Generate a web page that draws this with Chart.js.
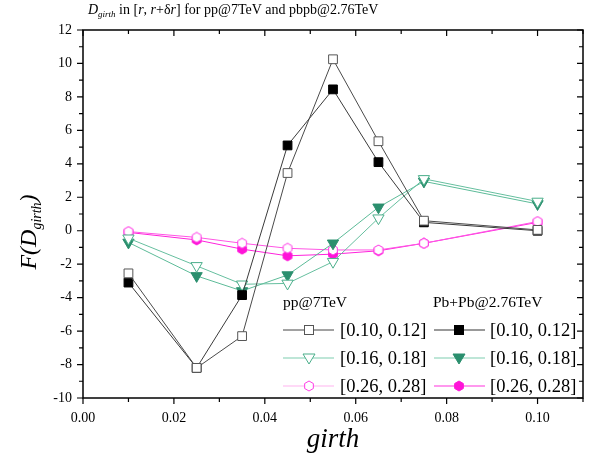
<!DOCTYPE html>
<html>
<head>
<meta charset="utf-8">
<script src="https://cdn.jsdelivr.net/npm/chart.js@4"></script>
<style>
  html, body { margin: 0; padding: 0; background: #fff; }
  #wrap { width: 594px; height: 461px; }
</style>
</head>
<body>
<div id="wrap"><canvas id="girth"></canvas></div>
<script>
// girth bins (x) and F(D_girth) values
var girth = [0.01, 0.025, 0.035, 0.045, 0.055, 0.065, 0.075, 0.10];
var pp1012 = [-2.55, -8.2, -6.3, 3.45, 10.25, 5.35, 0.6, 0.05];
var pbpb1012 = [-3.1, -8.2, -3.85, 5.1, 8.45, 4.1, 0.5, 0.0];
var pp1618 = [-0.45, -2.1, -3.2, -3.15, -1.85, 0.75, 3.1, 1.75];
var pbpb1618 = [-0.7, -2.7, -3.6, -2.65, -0.75, 1.4, 2.95, 1.6];
var pp2628 = [-0.05, -0.4, -0.75, -1.05, -1.15, -1.15, -0.75, 0.55];
var pbpb2628 = [-0.1, -0.55, -1.1, -1.5, -1.4, -1.2, -0.75, 0.5];

var xLabels = [0, 0.02, 0.04, 0.06, 0.08, 0.10];
var yLabels = [-10, -8, -6, -4, -2, 0, 2, 4, 6, 8, 10, 12];
var binNames = ['[0.10, 0.12]', '[0.16, 0.18]', '[0.26, 0.28]'];

var SERIF = "'Liberation Serif', 'DejaVu Serif', serif";

function hexagon(fill, stroke) {
  var c = document.createElement('canvas');
  c.width = 12; c.height = 12;
  var g = c.getContext('2d');
  g.beginPath();
  for (var i = 0; i < 6; i++) {
    var a = Math.PI / 2 + i * Math.PI / 3;
    var px = 6 + 5 * Math.cos(a), py = 6 - 5 * Math.sin(a);
    if (i == 0) g.moveTo(px, py); else g.lineTo(px, py);
  }
  g.closePath();
  g.fillStyle = fill; g.fill();
  g.lineWidth = 1; g.strokeStyle = stroke; g.stroke();
  return c;
}
var hexOpen = hexagon('#ffffff', '#ff3be6');
var hexFull = hexagon('#ff14d8', '#ff14d8');

function pts(ys) {
  return girth.map(function(x, i) { return {x: x, y: ys[i]}; });
}

function ds(label, ys, line, style, fill, stroke, radius, rot) {
  return {
    label: label, data: pts(ys), borderColor: line, borderWidth: 1,
    pointStyle: style, pointBackgroundColor: fill, pointBorderColor: stroke,
    pointBorderWidth: 1, pointRadius: radius, pointRotation: rot || 0,
    tension: 0, fill: false
  };
}

var datasets = [
  ds('pp [0.10, 0.12]', pp1012, '#4a4a4a', 'rect', '#ffffff', '#555555', 6.2),
  ds('PbPb [0.10, 0.12]', pbpb1012, '#3a3a3a', 'rect', '#000000', '#000000', 6.2),
  ds('pp [0.16, 0.18]', pp1618, '#66bf9f', 'triangle', '#ffffff', '#4aae8a', 6.5, 180),
  ds('PbPb [0.16, 0.18]', pbpb1618, '#5cbb98', 'triangle', '#2b8f6e', '#2b8f6e', 6.5, 180),
  ds('pp [0.26, 0.28]', pp2628, '#ff55e4', hexOpen, '#ffffff', '#ff3be6', 5),
  ds('PbPb [0.26, 0.28]', pbpb2628, '#ff22dc', hexFull, '#ff14d8', '#ff14d8', 5)
];

// draw a run of text pieces with different fonts / baseline shifts
function richText(ctx, parts, x, y) {
  var cx = x;
  parts.forEach(function(p) {
    ctx.font = p.f;
    ctx.fillText(p.t, cx, y + (p.dy || 0));
    cx += ctx.measureText(p.t).width;
  });
  return cx - x;
}
function richWidth(ctx, parts) {
  var w = 0;
  parts.forEach(function(p) { ctx.font = p.f; w += ctx.measureText(p.t).width; });
  return w;
}

function marker(ctx, kind, x, y) {
  ctx.save();
  ctx.lineWidth = 1;
  if (kind == 'sqOpen' || kind == 'sqFull') {
    ctx.fillStyle = kind == 'sqOpen' ? '#fff' : '#000';
    ctx.strokeStyle = kind == 'sqOpen' ? '#555' : '#000';
    ctx.fillRect(x - 4.5, y - 4.5, 9, 9);
    ctx.strokeRect(x - 4.5, y - 4.5, 9, 9);
  } else if (kind == 'triOpen' || kind == 'triFull') {
    ctx.beginPath();
    ctx.moveTo(x - 6, y - 4); ctx.lineTo(x + 6, y - 4); ctx.lineTo(x, y + 6);
    ctx.closePath();
    ctx.fillStyle = kind == 'triOpen' ? '#fff' : '#2b8f6e';
    ctx.strokeStyle = kind == 'triOpen' ? '#4aae8a' : '#2b8f6e';
    ctx.fill(); ctx.stroke();
  } else {
    ctx.drawImage(kind == 'hexOpen' ? hexOpen : hexFull, x - 6, y - 6);
  }
  ctx.restore();
}

var decor = {
  id: 'decor',
  afterDraw: function(chart) {
    var ctx = chart.ctx;
    var xs = chart.scales.x, ys = chart.scales.y;
    var L = chart.chartArea.left, R = chart.chartArea.right;
    var T = chart.chartArea.top, B = chart.chartArea.bottom;
    ctx.save();

    // frame
    ctx.strokeStyle = '#000';
    ctx.lineWidth = 1.5;
    ctx.strokeRect(L, T, R - L, B - T);
    ctx.lineWidth = 1.2;
    ctx.beginPath();
    for (var i = 0; i <= 11; i++) {
      var px = xs.getPixelForValue(i / 100);
      var len = i % 2 == 0 ? 6 : 4;
      ctx.moveTo(px, B); ctx.lineTo(px, B + len);
      ctx.moveTo(px, T); ctx.lineTo(px, T + len);
    }
    for (var v = -10; v <= 12; v++) {
      var py = ys.getPixelForValue(v);
      var len2 = v % 2 == 0 ? 6 : 4;
      ctx.moveTo(L, py); ctx.lineTo(L - len2, py);
      ctx.moveTo(R, py); ctx.lineTo(R - len2, py);
    }
    ctx.stroke();

    // title
    ctx.fillStyle = '#000';
    ctx.textBaseline = 'alphabetic';
    ctx.textAlign = 'left';
    var f = '14px ' + SERIF, fi = 'italic 14px ' + SERIF, fs = 'italic 9px ' + SERIF;
    richText(ctx, [
      {t: 'D', f: fi}, {t: 'girth', f: fs, dy: 3}, {t: ' in [', f: f}, {t: 'r', f: fi},
      {t: ', ', f: f}, {t: 'r', f: fi}, {t: '+\u03b4', f: f}, {t: 'r', f: fi},
      {t: '] for pp@7TeV and pbpb@2.76TeV', f: f}
    ], 88, 14);

    // x axis title
    ctx.font = 'italic 27px ' + SERIF;
    ctx.textAlign = 'center';
    ctx.fillText('girth', (L + R) / 2, 447);

    // y axis title (rotated)
    var yParts = [
      {t: 'F(D', f: 'italic 24px ' + SERIF}, {t: 'girth', f: 'italic 14px ' + SERIF, dy: 5},
      {t: ')', f: 'italic 24px ' + SERIF}
    ];
    ctx.textAlign = 'left';
    ctx.save();
    ctx.translate(36, 232);
    ctx.rotate(-Math.PI / 2);
    richText(ctx, yParts, -richWidth(ctx, yParts) / 2, 0);
    ctx.restore();

    // legend
    ctx.font = '15.5px ' + SERIF;
    ctx.textBaseline = 'middle';
    ctx.fillText('pp@7TeV', 283, 303);
    ctx.fillText('Pb+Pb@2.76TeV', 433, 303);
    var rowsY = [330, 358, 386];
    var leftLines = ['#444444', '#7fcdb0', '#ffb3f0'];
    var rightLines = ['#999999', '#7fcdb0', '#ff33de'];
    var leftMk = ['sqOpen', 'triOpen', 'hexOpen'];
    var rightMk = ['sqFull', 'triFull', 'hexFull'];
    ctx.font = '18.5px ' + SERIF;
    for (var r = 0; r < 3; r++) {
      var yy = rowsY[r];
      ctx.lineWidth = r == 0 ? 1 : 1.2;
      ctx.strokeStyle = leftLines[r];
      ctx.beginPath(); ctx.moveTo(283, yy); ctx.lineTo(334, yy); ctx.stroke();
      marker(ctx, leftMk[r], 309, yy);
      ctx.lineWidth = r == 0 ? 1.8 : 1.2;
      ctx.strokeStyle = rightLines[r];
      ctx.beginPath(); ctx.moveTo(434, yy); ctx.lineTo(485, yy); ctx.stroke();
      marker(ctx, rightMk[r], 459, yy);
      ctx.fillStyle = '#000';
      ctx.fillText(binNames[r], 340, yy + 1);
      ctx.fillText(binNames[r], 490, yy + 1);
    }
    ctx.restore();
  }
};

new Chart('girth', {
  type: 'line',
  data: { datasets: datasets },
  options: {
    responsive: true,
    maintainAspectRatio: false,
    animation: false,
    layout: { padding: { top: 30, right: 11, left: 0, bottom: 0 } },
    plugins: { legend: { display: false }, tooltip: { enabled: false } },
    scales: {
      x: {
        type: 'linear', min: 0, max: 0.11,
        afterBuildTicks: function(s) { s.ticks = xLabels.map(function(v) { return {value: v}; }); },
        afterFit: function(s) { s.height = 63; },
        grid: { display: false, drawTicks: false },
        border: { display: false },
        ticks: {
          padding: 12, color: '#000', maxRotation: 0,
          font: { family: SERIF, size: 14 },
          callback: function(v) { return Number(v).toFixed(2); }
        }
      },
      y: {
        type: 'linear', min: -10, max: 12,
        afterBuildTicks: function(s) { s.ticks = yLabels.map(function(v) { return {value: v}; }); },
        afterFit: function(s) { s.width = 83; },
        grid: { display: false, drawTicks: false },
        border: { display: false },
        ticks: {
          padding: 11, color: '#000',
          font: { family: SERIF, size: 14 },
          callback: function(v) { return String(v); }
        }
      }
    }
  },
  plugins: [decor]
});
</script>
</body>
</html>
